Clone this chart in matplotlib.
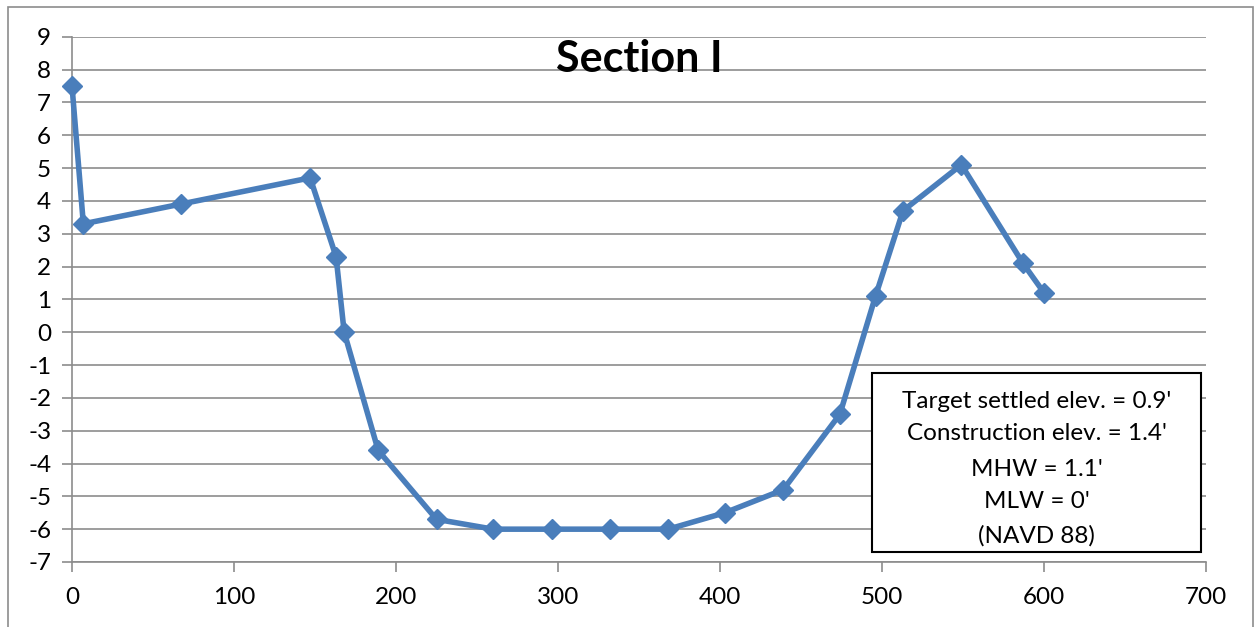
import matplotlib
matplotlib.use("Agg")
import matplotlib.pyplot as plt
from matplotlib.patches import Rectangle

plt.rcParams['font.family'] = ['Lato', 'DejaVu Sans']
plt.rcParams['axes.unicode_minus'] = False

# section profile: station (ft) vs elevation (ft)
station = [0, 7, 67, 147, 163, 168, 189, 225, 260, 296, 332, 368, 403, 439, 474, 496, 513, 549, 587, 600]
elev = [7.5, 3.3, 3.9, 4.7, 2.3, 0.0, -3.6, -5.7, -6.0, -6.0, -6.0, -6.0, -5.5, -4.8, -2.5, 1.1, 3.7, 5.1, 2.1, 1.2]

x_ticks = [0, 100, 200, 300, 400, 500, 600, 700]
y_ticks = list(range(-7, 10))
note_lines = ["Target settled elev. = 0.9'", "Construction elev. = 1.4'",
              "MHW = 1.1'", "MLW = 0'", "(NAVD 88)"]

W, H = 1255, 627
fig = plt.figure(figsize=(W / 100, H / 100), dpi=100)
ax = fig.add_axes([72 / W, 1 - 562 / H, (1206 - 72) / W, (562 - 36.7) / H])

# outer chart frame
fig.patches.append(Rectangle((8 / W, -0.01), (1253 - 8) / W, 1 - 7 / H + 0.01,
                             transform=fig.transFigure, fill=False,
                             edgecolor='#8c8c8c', linewidth=1.2))

grid_c = '#8c8c8c'
ax.set_xlim(0, 700)
ax.set_ylim(-7, 9)
ax.set_xticks(x_ticks)
ax.set_yticks(y_ticks)
ax.yaxis.grid(True, color=grid_c, linewidth=1.2)
ax.set_axisbelow(True)
for s in ['top', 'right']:
    ax.spines[s].set_visible(False)
for s in ['left', 'bottom']:
    ax.spines[s].set_color(grid_c)
    ax.spines[s].set_linewidth(1.2)
ax.tick_params(axis='both', colors=grid_c, labelcolor='black', labelsize=17.5,
               length=7, width=1.2)
ax.tick_params(axis='x', pad=11)
ax.tick_params(axis='y', pad=8)

ax.plot(station, elev, color='#4a7ebb', linewidth=4, marker='D',
        markersize=10, clip_on=False, zorder=3)

ax.text(0.5, 0.958, "Section I", transform=ax.transAxes, ha='center',
        va='center', fontsize=31, fontweight='bold')

# note box
bx0, by0, bx1, by1 = 872, 373, 1201, 552
fig.patches.append(Rectangle((bx0 / W, 1 - by1 / H), (bx1 - bx0) / W, (by1 - by0) / H,
                             transform=fig.transFigure, facecolor='white',
                             edgecolor='black', linewidth=1.5, zorder=5))
line_y = [401, 433, 470, 502, 536]
for txt, ly in zip(note_lines, line_y):
    fig.text((bx0 + bx1) / 2 / W, 1 - ly / H, txt, ha='center', va='center',
             fontsize=17.5, zorder=6)

fig.savefig('out.png', dpi=100)
